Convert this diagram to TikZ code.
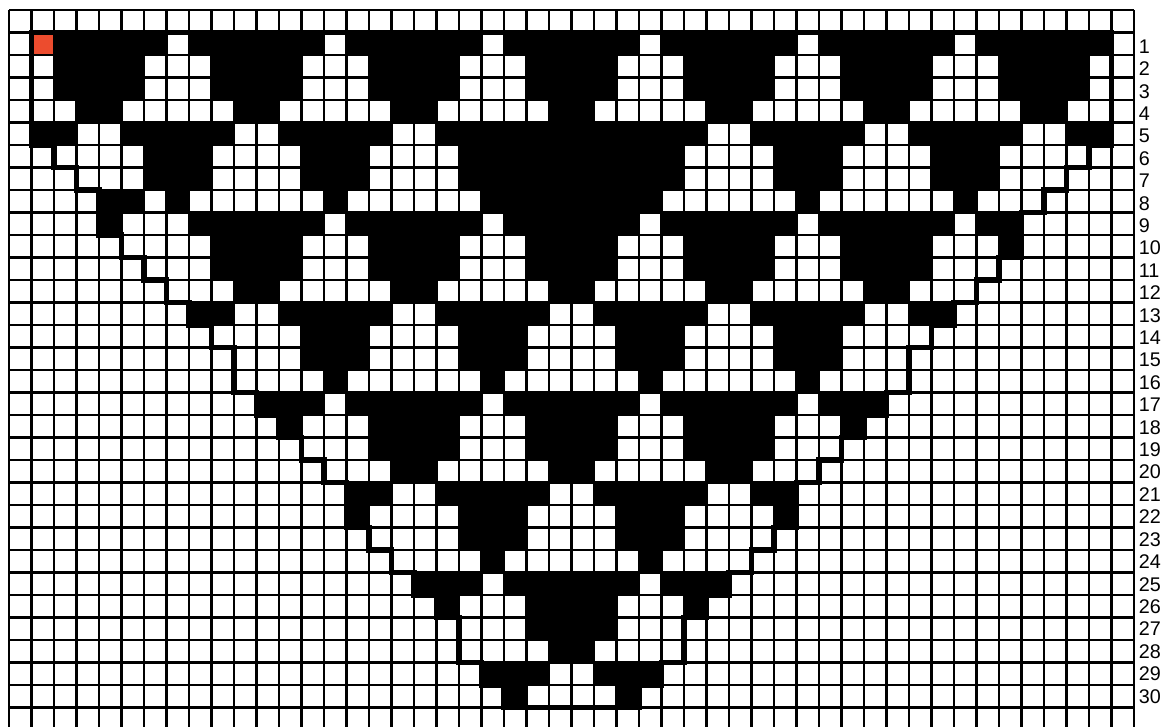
\documentclass[tikz,border=0pt]{standalone}
\usepackage{fontspec}
\setmainfont{Liberation Sans}
\definecolor{startred}{RGB}{236,76,46}
\begin{document}
\begin{tikzpicture}[x=0.5cm,y=0.5cm,
  gridline/.style={line width=1.3pt, black},
  outlinepath/.style={line width=3.4pt, black, line join=miter, line cap=rect},
  rowlabel/.style={anchor=west, inner sep=0pt, font=\fontsize{12.5}{14}\selectfont}]
\useasboundingbox (-0.4,0.444) rectangle (51.378,-31.867);
\fill[white] (-0.4,0.444) rectangle (51.378,-31.867);
% black cells: row/first/last
\foreach \r/\a/\b in {
 1/2/6, 1/8/13, 1/15/20, 1/22/27, 1/29/34, 1/36/41, 1/43/48,
 2/2/5, 2/9/12, 2/16/19, 2/23/26, 2/30/33, 2/37/40, 2/44/47,
 3/2/5, 3/9/12, 3/16/19, 3/23/26, 3/30/33, 3/37/40, 3/44/47,
 4/3/4, 4/10/11, 4/17/18, 4/24/25, 4/31/32, 4/38/39, 4/45/46,
 5/1/2, 5/5/9, 5/12/16, 5/19/30, 5/33/37, 5/40/44, 5/47/48,
 6/6/8, 6/13/15, 6/20/29, 6/34/36, 6/41/43,
 7/6/8, 7/13/15, 7/20/29, 7/34/36, 7/41/43,
 8/4/5, 8/7/7, 8/14/14, 8/21/28, 8/35/35, 8/42/42,
 9/4/4, 9/8/13, 9/15/20, 9/22/27, 9/29/34, 9/36/41, 9/43/44,
 10/9/12, 10/16/19, 10/23/26, 10/30/33, 10/37/40, 10/44/44,
 11/9/12, 11/16/19, 11/23/26, 11/30/33, 11/37/40,
 12/10/11, 12/17/18, 12/24/25, 12/31/32, 12/38/39,
 13/8/9, 13/12/16, 13/19/23, 13/26/30, 13/33/37, 13/40/41,
 14/13/15, 14/20/22, 14/27/29, 14/34/36,
 15/13/15, 15/20/22, 15/27/29, 15/34/36,
 16/14/14, 16/21/21, 16/28/28, 16/35/35,
 17/11/13, 17/15/20, 17/22/27, 17/29/34, 17/36/38,
 18/12/12, 18/16/19, 18/23/26, 18/30/33, 18/37/37,
 19/16/19, 19/23/26, 19/30/33,
 20/17/18, 20/24/25, 20/31/32,
 21/15/16, 21/19/23, 21/26/30, 21/33/34,
 22/15/15, 22/20/22, 22/27/29, 22/34/34,
 23/20/22, 23/27/29,
 24/21/21, 24/28/28,
 25/18/20, 25/22/27, 25/29/31,
 26/19/19, 26/23/26, 26/30/30,
 27/23/26,
 28/24/25,
 29/21/23, 29/26/28,
 30/22/22, 30/27/27}
 {\fill[black] (\a,-\r) rectangle (\b+1,-\r-1);}
% start cell
\fill[startred] (1,-1) rectangle (2,-2);
% grid
\foreach \i in {0,...,50} \draw[gridline] (\i,0) -- (\i,-31.9);
\foreach \j in {0,...,31} \draw[gridline] (0,-\j) -- (50,-\j);
% outline of the region
\draw[outlinepath] (1,-1) -- (49,-1) -- (49,-6) -- (48,-6) -- (48,-7) -- (47,-7) -- (47,-8) -- (46,-8) -- (46,-9) -- (45,-9) -- (45,-11) -- (44,-11) -- (44,-12) -- (43,-12) -- (43,-13) -- (42,-13) -- (42,-14) -- (41,-14) -- (41,-15) -- (40,-15) -- (40,-17) -- (39,-17) -- (39,-18) -- (38,-18) -- (38,-19) -- (37,-19) -- (37,-20) -- (36,-20) -- (36,-21) -- (35,-21) -- (35,-23) -- (34,-23) -- (34,-24) -- (33,-24) -- (33,-25) -- (32,-25) -- (32,-26) -- (31,-26) -- (31,-27) -- (30,-27) -- (30,-29) -- (29,-29) -- (29,-30) -- (28,-30) -- (28,-31) -- (22,-31) -- (22,-30) -- (21,-30) -- (21,-29) -- (20,-29) -- (20,-27) -- (19,-27) -- (19,-26) -- (18,-26) -- (18,-25) -- (17,-25) -- (17,-24) -- (16,-24) -- (16,-23) -- (15,-23) -- (15,-21) -- (14,-21) -- (14,-20) -- (13,-20) -- (13,-19) -- (12,-19) -- (12,-18) -- (11,-18) -- (11,-17) -- (10,-17) -- (10,-15) -- (9,-15) -- (9,-14) -- (8,-14) -- (8,-13) -- (7,-13) -- (7,-12) -- (6,-12) -- (6,-11) -- (5,-11) -- (5,-10) -- (4,-10) -- (4,-8) -- (3,-8) -- (3,-7) -- (2,-7) -- (2,-6) -- (1,-6) -- cycle;
% row labels
\foreach \r in {1,...,30}
  \node[rowlabel] (lab\r) at (50.2,{-(\r+0.5)-0.12*(30-\r)/29}) {\r};
\end{tikzpicture}
\end{document}
